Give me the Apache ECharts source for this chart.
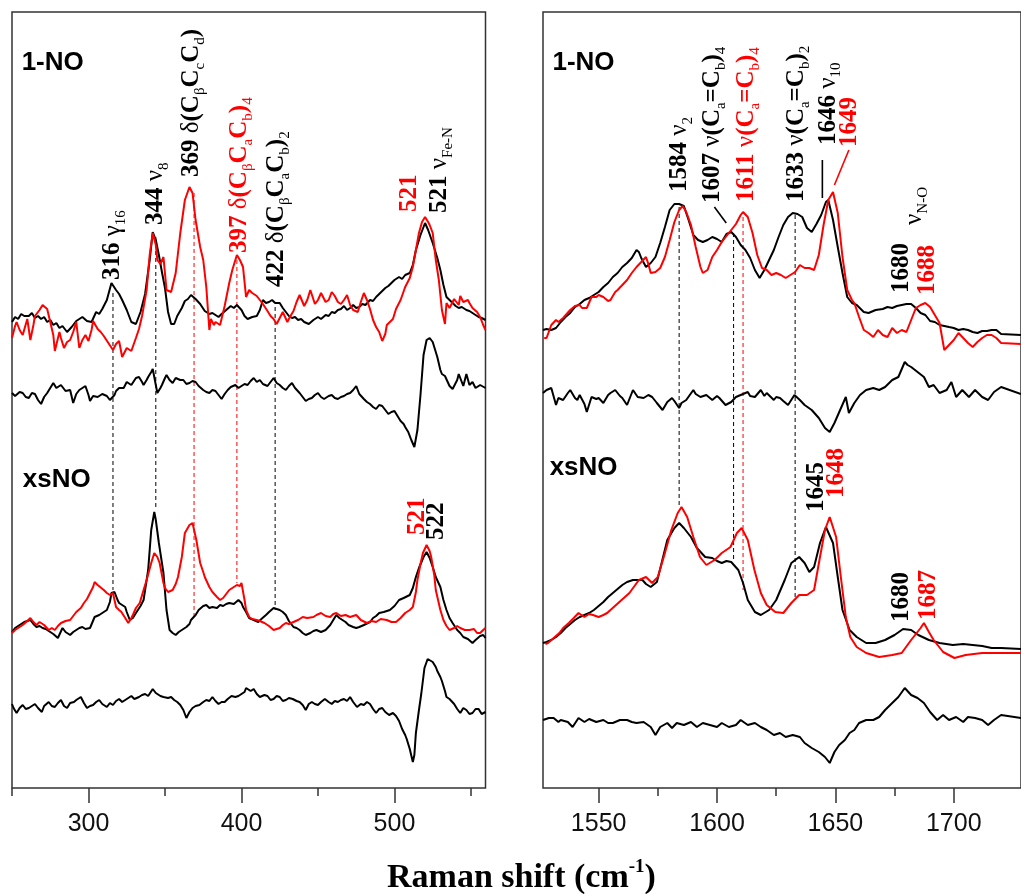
<!DOCTYPE html>
<html>
<head>
<meta charset="utf-8">
<script src="https://cdn.jsdelivr.net/npm/echarts@6/dist/echarts.min.js"></script>
<style>
  html, body { margin: 0; padding: 0; background: #fff; }
  #main { width: 1021px; height: 894px; }
</style>
</head>
<body>
<div id="main"></div>
<script>
// ---- Tick positions (cm^-1) ----
const leftMajorTicks = [300, 400, 500];
const leftMinorTicks = [250, 350, 450, 550];
const rightMajorTicks = [1550, 1600, 1650, 1700];
const rightMinorTicks = [1575, 1625, 1675];

// ---- Low-frequency region: [Raman shift, intensity] ----
const no1LowBlack = [[250,8],[252,13],[254,11],[256,16],[258,14],[261,14],[263,17],[265,12],[267,14],[269,11],[271,13],[273,8],[275,10],[277,5],[279,7],[281,2],[283,4],[286,-2],[289,3],[292,9],[294,11],[296,13],[299,9],[302,8],[305,18],[307,16],[309,21],[312,30],[315,47],[318,40],[320,36],[322,30],[325,20],[328,8],[331,6],[334,18],[337,36],[340,70],[342,98],[344,90],[346,75],[348,58],[350,42],[352,18],[354,6],[356,6],[358,14],[361,22],[363,29],[365,31],[367,35],[370,31],[373,26],[376,19],[379,16],[381,17],[383,15],[385,13],[387,16],[390,20],[393,24],[395,22],[397,25],[400,20],[402,14],[404,11],[407,13],[410,14],[412,20],[414,30],[416,27],[418,28],[420,30],[422,27],[425,27],[427,22],[429,18],[431,14],[433,12],[435,13],[437,10],[439,11],[441,8],[444,6],[447,10],[450,13],[452,11],[455,15],[457,14],[459,18],[461,17],[463,20],[465,21],[467,24],[469,20],[471,22],[473,25],[475,22],[477,23],[479,26],[481,25],[484,30],[486,29],[488,33],[490,36],[492,39],[494,42],[496,44],[498,47],[500,50],[503,53],[505,51],[507,55],[510,57],[512,65],[514,80],[517,95],[519,103],[520,107],[522,100],[525,87],[528,72],[530,60],[532,45],[534,33],[536,30],[538,27],[540,24],[542,22],[544,23],[547,20],[549,19],[551,17],[553,15],[555,13],[557,12],[559.5,10]];
const no1LowRed = [[250,-8],[252,4],[253,8],[255,0],[257,-5],[260,11],[262,-10],[264,5],[265,14],[268,20],[270,25],[273,21],[275,8],[277,-5],[278,-21],[281,-2],[282,-8],[284,-18],[286,-12],[288,-10],[290,-2],[292,8],[294,-18],[296,-10],[298,-5],[300,-11],[302,0],[303,9],[306,1],[308,-2],[310,-6],[313,-13],[316,-20],[318,-14],[320,-11],[322,-27],[325,-18],[328,-21],[331,-8],[333,1],[335,14],[338,40],[340,75],[342,97],[344,85],[345,70],[347,66],[349,73],[351,40],[354,38],[357,57],[360,97],[363,130],[366,143],[368,137],[370,110],[373,83],[375,70],[377,43],[379,0],[380,11],[382,5],[383,8],[386,5],[389,24],[392,47],[394,60],[396,70],[397,75],[399,70],[401,63],[403,33],[405,40],[407,37],[410,34],[412,30],[414,26],[417,19],[419,14],[421,11],[423,6],[425,12],[427,18],[430,8],[432,14],[434,19],[436,28],[438,35],[441,24],[443,30],[445,40],[448,26],[450,30],[452,37],[455,28],[457,30],[459,38],[461,34],[463,28],[465,26],[467,30],[469,35],[471,25],[473,20],[476,18],[478,28],[480,37],[482,30],[484,21],[486,10],[488,3],[490,-2],[492,-11],[494,-4],[495,5],[497,8],[499,11],[501,21],[504,30],[507,43],[510,52],[512,63],[514,80],[516,97],[518,108],[520,113],[522,108],[523,105],[525,97],[527,70],[529,50],[531,20],[533,6],[534,27],[536,22],[537,24],[539,31],[540,30],[542,25],[543,34],[545,28],[546,26],[548,30],[549,27],[551,22],[552,24],[554,18],[556,13],[558,5],[559.5,0]];
const no1LowDiff = [[250,7],[252,4],[253,4],[255,8],[257,7],[259,3],[261,2],[263,7],[265,6],[267,0],[269,-4],[271,3],[273,7],[275,12],[277,17],[279,12],[280,10],[282,15],[283,14],[285,9],[286,7],[288,10],[290,-3],[292,6],[294,10],[296,12],[298,14],[300,5],[301,-1],[303,4],[304,6],[306,3],[307,2],[309,6],[312,4],[314,0],[315,-1],[317,5],[318,9],[320,12],[321,14],[323,12],[325,18],[326,20],[328,15],[329,17],[331,22],[333,23],[335,18],[336,15],[338,20],[339,23],[341,28],[342,31],[344,15],[345,7],[347,12],[348,15],[350,22],[351,25],[353,20],[355,17],[357,22],[358,23],[360,20],[362,20],[364,16],[366,17],[368,19],[370,18],[372,14],[375,10],[377,8],[379,7],[381,10],[383,9],[385,5],[387,1],[389,6],[391,10],[393,13],[396,15],[398,12],[400,14],[402,16],[404,15],[406,19],[408,22],[410,18],[412,20],[414,16],[417,14],[419,18],[421,22],[423,17],[425,15],[427,12],[429,10],[431,14],[433,17],[435,12],[438,7],[440,3],[442,-1],[444,1],[446,2],[448,5],[450,7],[452,3],[454,1],[457,4],[459,5],[461,2],[463,1],[465,3],[467,4],[469,6],[471,7],[473,10],[475,14],[477,6],[480,1],[482,-2],[484,-4],[486,-7],[488,-9],[490,-5],[492,-6],[494,-10],[496,-14],[498,-12],[500,-11],[502,-16],[504,-21],[506,-24],[507,-27],[509,-32],[511,-40],[513,-47],[515,-30],[517,5],[519,45],[521,60],[523,62],[525,58],[528,43],[530,30],[531,26],[533,24],[534,22],[536,14],[538,11],[539,10],[541,20],[542,26],[544,18],[545,14],[547,26],[549,15],[551,18],[553,12],[554,10],[556,15],[557,17],[559.5,12]];
const xsLowBlack = [[250,-2],[252,2],[255,5],[258,8],[260,9],[262,10],[264,6],[266,3],[268,4],[270,2],[272,1],[275,-2],[277,-4],[280,-8],[283,2],[285,-2],[288,-5],[290,-2],[292,0],[294,2],[296,3],[298,1],[301,2],[304,13],[307,15],[309,17],[312,20],[314,28],[315,37],[317,38],[319,30],[320,27],[322,25],[324,23],[325,18],[327,10],[329,12],[331,17],[334,24],[336,30],[339,60],[341,100],[343,118],[344,110],[346,87],[349,57],[351,20],[353,0],[355,-3],[357,-5],[359,-2],[361,0],[364,3],[366,6],[367,10],[370,15],[372,20],[375,24],[377,25],[379,22],[381,23],[384,22],[386,25],[388,24],[390,26],[392,27],[395,26],[398,30],[400,27],[401,23],[403,18],[405,12],[408,10],[411,8],[413,11],[416,15],[418,18],[421,22],[423,21],[425,20],[427,18],[429,15],[431,9],[434,3],[436,2],[438,0],[440,-3],[442,-5],[445,-3],[447,-1],[449,0],[452,-2],[455,0],[458,5],[460,10],[462,15],[464,12],[466,10],[468,8],[470,5],[473,3],[475,2],[477,3],[480,5],[484,8],[486,12],[488,14],[490,17],[493,18],[497,20],[500,24],[503,30],[506,32],[510,35],[512,42],[514,53],[516,62],[519,73],[521,78],[523,72],[525,63],[527,53],[530,43],[532,30],[534,20],[536,12],[538,7],[541,0],[543,-3],[545,-7],[548,-9],[551,-13],[553,-10],[556,-6],[558,-5],[559.5,-8]];
const xsLowRed = [[250,-3],[252,0],[255,3],[257,5],[258,6],[260,9],[262,12],[264,8],[266,5],[268,8],[269,10],[271,5],[274,0],[276,2],[278,0],[280,4],[282,7],[285,9],[288,10],[290,14],[292,18],[295,22],[297,27],[299,31],[301,37],[303,43],[304,48],[306,45],[307,43],[310,40],[312,37],[314,35],[316,37],[317,30],[318,23],[320,20],[321.5,18],[324,12],[326,7],[328,12],[329,15],[331,22],[333.5,27],[336,40],[338,50],[341,67],[343,77],[345,73],[346.5,67],[349,47],[350,42],[352,38],[355,40],[357,46],[358.5,53],[361,73],[363,97],[366,105],[368,107],[370.5,90],[373,67],[375,58],[376,53],[379,43],[381,38],[384,33],[386,30],[388,32],[390,36],[392,40],[394,42],[397,45],[399,44],[400,47],[402,30],[403,20],[405,13],[407,11],[410,10],[412,9],[415,7],[418,4],[421,0],[423,1],[425,2],[427,5],[429,7],[431,6],[434,8],[437,10],[440,13],[443,12],[447,13],[449,15],[452,17],[455,14],[458,13],[460,16],[462,17],[465,14],[468,15],[471,13],[475,15],[478,10],[482,7],[485,9],[488,8],[491,11],[495,10],[498,8],[501,8],[504,12],[507,17],[510,20],[512,23],[514,38],[515,50],[517,66],[518.6,77],[521,85],[523,79],[524,73],[526,55],[527,40],[530,20],[532,10],[534,4],[536,0],[539,2],[541,4],[543,2],[546,0],[549,0],[552,1],[554,-3],[556,-3],[558,0],[559.5,2]];
const xsLowDiff = [[250,1],[251,-3],[253,-8],[255,-3],[257,0],[259,-4],[261,-3],[263,-1],[265,1],[267,-3],[269.5,-7],[271,-1],[274,3],[276,-1],[278,-2],[280,2],[282,5],[284,-1],[286,-3],[288,2],[290.5,3],[292,5],[295,8],[297,2],[299,-3],[301,-1],[303,0],[305,3],[307,5],[309,1],[312,-2],[314,2],[316,0],[318,4],[320,6],[322,3],[324,5],[326,7],[328,9],[330,6],[333,8],[335,10],[337,11],[339,9],[342,16],[344,12],[345,11],[347,9],[349,8],[352,7],[354,8],[356,5],[358,3],[360,0],[362,-5],[364,-13],[366,-7],[368,-3],[370,-1],[372.5,0],[375,3],[377,5],[379,4],[381,8],[383,4],[385,1],[387,3],[389,3],[391,6],[393.5,9],[396,8],[398,9],[400,11],[402,13],[403,17],[404,19],[406,14],[408,16],[410,11],[412,8],[415,10],[417,9],[419,5],[421,6],[423,9],[425,8],[427,4],[429,5],[431,7],[433.5,6],[436,4],[438,3],[440,0],[442,-5],[444,1],[446,3],[448,1],[450,0],[452,3],[454.5,6],[457,3],[459,1],[461,4],[463,3],[465,5],[467,6],[469,4],[471,8],[473,3],[475.5,-2],[478,1],[480,0],[482,3],[484,1],[486,-4],[488,-8],[490,-4],[492,-3],[494,-7],[496.5,-10],[499,-8],[501,-11],[503,-16],[505,-24],[507,-30],[508,-34],[510,-44],[512,-57],[513,-50],[514,-28],[516,-5],[517.5,11],[519.6,37],[521.7,46],[523,44],[525,43],[527,38],[528,34],[530,28],[531,24],[533,14],[534,8],[536,6],[539,1],[541,-4],[543,-8],[545,-3],[547,-5],[549,-9],[551,-8],[553,-4],[555,-4],[557,-9],[559.5,-7]];

// ---- High-frequency region: [Raman shift, intensity] ----
const no1HighBlack = [[1526.5,0],[1528,1],[1530,0],[1532,2],[1534,8],[1536,13],[1538,17],[1540,23],[1542,26],[1544,30],[1546,32],[1548,35],[1550,38],[1552,43],[1554,47],[1556,53],[1558,57],[1560,63],[1562,67],[1564,72],[1566,80],[1567,78],[1568,72],[1570,63],[1572,67],[1574,73],[1576,87],[1578,103],[1580,120],[1582,126],[1584,126],[1586,124],[1588,110],[1590,95],[1592,90],[1594,88],[1596,90],[1598,93],[1600,91],[1602,88],[1604,96],[1606,98],[1608,93],[1610,85],[1612,80],[1614,72],[1616,60],[1618,52],[1620,60],[1622,70],[1624,80],[1626,93],[1628,105],[1630,113],[1632,117],[1634,116],[1636,113],[1638,102],[1640,98],[1642,106],[1644,115],[1646,128],[1647,130],[1649,110],[1651,83],[1653,57],[1655,33],[1657,27],[1659,25],[1662,18],[1664,17],[1667,20],[1670,21],[1672,23],[1674,22],[1676,24],[1678,25],[1680,26],[1682,26],[1684,22],[1686,17],[1688,15],[1690,9],[1692,8],[1694,5],[1696,4],[1698,3],[1700,2],[1702,0],[1704,1],[1706,0],[1708,-2],[1710,-3],[1712,-1],[1714,-1],[1716,0],[1718,0],[1720,-4],[1728.4,-5]];
const no1HighRed = [[1527,-8],[1528,-8],[1530,5],[1532,10],[1533,8],[1535,12],[1538,20],[1540,24],[1542,25],[1543,22],[1545,22],[1547,33],[1549,33],[1550,35],[1552,33],[1554,29],[1555,30],[1557,38],[1558,40],[1560,45],[1562,50],[1564,57],[1566,63],[1568,68],[1570,73],[1571,66],[1572,57],[1574,58],[1576,62],[1578,73],[1580,90],[1582,108],[1584,120],[1585.5,124],[1587,118],[1589,105],[1591,83],[1593,63],[1594,57],[1596,60],[1598,73],[1600,80],[1602,88],[1604,94],[1606,100],[1608,106],[1610,115],[1611,118],[1613,113],[1615,97],[1617,75],[1619,62],[1621,60],[1623,55],[1625,57],[1627,55],[1629,52],[1631,55],[1633,58],[1635,65],[1637,62],[1639,62],[1641,60],[1643,75],[1645,105],[1647,130],[1649,138],[1651,117],[1653,73],[1655,40],[1657,30],[1658,27],[1660,13],[1662,0],[1664,-3],[1666,-7],[1668,0],[1670,-5],[1672,-7],[1674,2],[1676,-3],[1678,0],[1680,-2],[1682,10],[1684,22],[1686,25],[1688,27],[1690,23],[1692,15],[1694,7],[1696,-20],[1698,-15],[1700,-10],[1702,-3],[1704,-8],[1706,-13],[1708,-17],[1710,-12],[1712,-8],[1714,-5],[1716,-5],[1718,-8],[1720,-13],[1728.4,-14]];
const no1HighDiff = [[1526.5,5],[1528,8],[1530,10],[1532,-7],[1533,0],[1535,-2],[1537,5],[1538,8],[1540,0],[1541,-2],[1542,3],[1544,-6],[1545,-14],[1547,1],[1549,-1],[1550,0],[1552,-5],[1554,3],[1555,5],[1557,8],[1559,2],[1560,0],[1562,-7],[1564.5,8],[1566.5,1],[1569,0],[1571,3],[1572.6,1],[1574.6,-5],[1577,-12],[1579,-4],[1581,0],[1582,-3],[1584,-10],[1585,-5],[1587,-2],[1590,8],[1591,4],[1593,1],[1595.5,3],[1597,0],[1598,-2],[1600,2],[1601,0],[1603.6,-7],[1606,-4],[1608,1],[1610,3],[1613,6],[1614,2],[1616,1],[1618.5,8],[1620,2],[1621,5],[1624,-2],[1625,1],[1626.6,0],[1628,-3],[1630,-7],[1632.7,3],[1635,-2],[1637,-7],[1640,-12],[1643,-20],[1645.6,-30],[1647.6,-34],[1649.6,-25],[1652,-12],[1654.4,1],[1655.7,-15],[1658,-5],[1660.4,3],[1663,8],[1666,10],[1668.5,8],[1671,11],[1674,18],[1676.6,21],[1679.3,36],[1680.5,33],[1682,31],[1684.7,26],[1687.4,21],[1689.5,11],[1691.5,13],[1694,5],[1697,8],[1699,16],[1701,1],[1703.6,8],[1706.4,1],[1709,8],[1712,1],[1714.5,-2],[1717,6],[1720,11],[1728.4,4]];
const xsHighBlack = [[1526.5,-13],[1528,-12],[1530,-10],[1532,-7],[1534,-3],[1536,2],[1538,6],[1540,10],[1542,13],[1544,15],[1546,17],[1548,20],[1550,24],[1552,28],[1554,33],[1556,37],[1558,41],[1560,45],[1562,48],[1564.5,50],[1566,50],[1568.5,50],[1570,46],[1572,43],[1574.6,48],[1576.6,67],[1579,90],[1582,102],[1584,107],[1586,102],[1589,93],[1591.5,82],[1595,73],[1598,72],[1600,69],[1602,67],[1604,69],[1606,68],[1609,60],[1611,47],[1613,30],[1616,18],[1618.5,15],[1622,20],[1625,30],[1628.6,50],[1631.4,67],[1634.7,73],[1637,67],[1639,58],[1641,63],[1643.5,87],[1646,103],[1649,87],[1651,53],[1653,20],[1656,0],[1659,-7],[1663,-13],[1667,-13],[1671,-10],[1675,-5],[1678.6,1],[1682,0],[1685,-5],[1689.5,-10],[1694,-13],[1699.6,-15],[1704,-14],[1708,-15],[1712,-16],[1716,-18],[1720,-18],[1728.4,-19]];
const xsHighRed = [[1527.5,-14],[1528.6,-13],[1531,-8],[1533.4,-3],[1535,2],[1537.4,7],[1539.5,12],[1541.5,17],[1544,13],[1546,16],[1547.6,15],[1550,13],[1552,15],[1553.6,17],[1556.4,23],[1559.7,30],[1563,37],[1567,50],[1570,53],[1572.6,47],[1575,53],[1578,77],[1580.7,100],[1583.4,117],[1585,123],[1587.4,113],[1590,93],[1592.8,73],[1595.5,65],[1599,70],[1602,77],[1605.7,83],[1608.4,97],[1610.4,102],[1613,90],[1615.8,60],[1618.5,37],[1621,25],[1624.6,18],[1628,17],[1631.4,27],[1634.7,35],[1638,35],[1641,40],[1643.5,73],[1645.6,100],[1647.6,113],[1650.3,93],[1652.3,53],[1654.4,13],[1656.3,-7],[1659,-17],[1663,-23],[1668.5,-27],[1674,-25],[1678,-23],[1682,-10],[1684,-4],[1686,2],[1687.4,7],[1689.5,-2],[1691.5,-10],[1695.5,-22],[1700.3,-28],[1705,-25],[1712,-23],[1720,-23],[1728.4,-23]];
const xsHighDiff = [[1526.5,0],[1529,2],[1531,2],[1533,-2],[1534,0],[1537,-2],[1539,-7],[1541.5,2],[1544,-2],[1546,1],[1549,-2],[1552,0],[1554,-3],[1556,-3],[1559,0],[1562,0],[1564,-2],[1566,-3],[1569,-2],[1572,-7],[1574,-15],[1576,-7],[1579,-3],[1581,-8],[1583,-3],[1586,-5],[1589,-2],[1591.5,-7],[1594,-3],[1597,-5],[1600,-7],[1602,-3],[1605,-7],[1608,-5],[1610,0],[1613,-5],[1616,-3],[1618.5,-7],[1621,-10],[1624,-15],[1626.6,-13],[1629,-17],[1632,-15],[1635,-17],[1637,-23],[1640,-28],[1643,-32],[1645.6,-37],[1647.6,-43],[1649.6,-32],[1651.6,-25],[1654,-20],[1656,-13],[1658,-10],[1660,-3],[1663,0],[1666,0],[1668.5,3],[1671,10],[1674,17],[1676.6,23],[1679.3,32],[1682,25],[1684.7,22],[1687.4,17],[1690,8],[1693,0],[1695.5,5],[1698,0],[1701,3],[1704,-2],[1706,3],[1709,2],[1712,0],[1714.5,-5],[1717,0],[1720,5],[1728.4,2]];

// ---- Band markers: [shift, top, bottom] ----
const lowBandsBlack = [[316, 495, 198], [344, 551, 278], [422, 481, 178]];
const lowBandsRed = [[369, 595, 171], [397, 528, 205]];
const highBandsBlack = [[1584, 581, 281], [1607, 555, 228], [1633, 573, 191]];
const highBandsRed = [[1611, 571, 198]];

const SERIF = '"Liberation Serif", "Times New Roman", serif';
const SANS = '"Liberation Sans", Arial, sans-serif';
const AXIS_COLOR = '#333';

// vertical baselines of the stacked traces (axis units)
const OFFSET = { no1: 458, no1DiffLow: 388, no1DiffHigh: 390, xs: 158, xsDiffLow: 83, xsDiffHigh: 68 };

function shifted(arr, off) { return arr.map(p => [p[0], p[1] + off]); }

const series = [];
function trace(data, off, color, axis) {
  series.push({
    type: 'line', data: shifted(data, off), xAxisIndex: axis.x, yAxisIndex: axis.y,
    showSymbol: false, symbol: 'none', smooth: false, animation: false, silent: true,
    lineStyle: { color: color, width: 2 }, z: color === '#ff0000' ? 3 : 2
  });
}
function bandLine(b, color, axis) {
  series.push({
    type: 'line', data: [[b[0], b[1]], [b[0], b[2]]], xAxisIndex: axis.x, yAxisIndex: axis.y,
    showSymbol: false, symbol: 'none', animation: false, silent: true,
    lineStyle: { color: color, width: 1, type: [4, 3] }, z: 1
  });
}
function leader(pts, color, axis) {
  series.push({
    type: 'line', data: pts, xAxisIndex: axis.x, yAxisIndex: axis.y,
    showSymbol: false, symbol: 'none', animation: false, silent: true,
    lineStyle: { color: color, width: 1.6 }, z: 4
  });
}

const L = { x: 0, y: 0 }, R = { x: 2, y: 1 };

lowBandsBlack.forEach(b => bandLine(b, '#000', L));
lowBandsRed.forEach(b => bandLine(b, '#ff0000', L));
highBandsBlack.forEach(b => bandLine(b, '#000', R));
highBandsRed.forEach(b => bandLine(b, '#ff0000', R));

trace(no1LowBlack, OFFSET.no1, '#000', L);
trace(no1LowRed, OFFSET.no1, '#ff0000', L);
trace(no1LowDiff, OFFSET.no1DiffLow, '#000', L);
trace(xsLowBlack, OFFSET.xs, '#000', L);
trace(xsLowRed, OFFSET.xs, '#ff0000', L);
trace(xsLowDiff, OFFSET.xsDiffLow, '#000', L);

trace(no1HighBlack, OFFSET.no1, '#000', R);
trace(no1HighRed, OFFSET.no1, '#ff0000', R);
trace(no1HighDiff, OFFSET.no1DiffHigh, '#000', R);
trace(xsHighBlack, OFFSET.xs, '#000', R);
trace(xsHighRed, OFFSET.xs, '#ff0000', R);
trace(xsHighDiff, OFFSET.xsDiffHigh, '#000', R);

// leader lines for the crowded band labels
leader([[1598.9, 581], [1603.9, 565]], '#000', R);
leader([[1644.5, 628], [1644.5, 590]], '#000', R);
leader([[1655.7, 638], [1649.6, 603]], '#ff0000', R);

function xAxisPair(grid, min, max, major, minor) {
  const common = {
    type: 'value', gridIndex: grid, min: min, max: max, position: 'bottom',
    splitLine: { show: false }, axisLine: { show: false }
  };
  return [
    Object.assign({}, common, {
      axisTick: { show: true, inside: false, length: 15, customValues: major, lineStyle: { color: AXIS_COLOR, width: 1.5 } },
      axisLabel: { show: true, customValues: major, margin: 24, fontFamily: SANS, fontSize: 25, color: '#111',
                   formatter: v => String(v) }
    }),
    Object.assign({}, common, {
      axisTick: { show: true, inside: false, length: 8, customValues: minor, lineStyle: { color: AXIS_COLOR, width: 1.5 } },
      axisLabel: { show: false }
    })
  ];
}

const option = {
  backgroundColor: '#fff',
  animation: false,
  grid: [
    { left: 12, top: 12, width: 473.5, height: 776, show: true, borderColor: AXIS_COLOR, borderWidth: 1.5, backgroundColor: 'transparent' },
    { left: 543, top: 12, width: 498, height: 776, show: true, borderColor: AXIS_COLOR, borderWidth: 1.5, backgroundColor: 'transparent' }
  ],
  xAxis: [].concat(
    xAxisPair(0, 250, 559.5, leftMajorTicks, leftMinorTicks),
    xAxisPair(1, 1526.5, 1728.4, rightMajorTicks, rightMinorTicks)
  ),
  yAxis: [
    { type: 'value', gridIndex: 0, min: 0, max: 776, show: false },
    { type: 'value', gridIndex: 1, min: 0, max: 776, show: false }
  ],
  series: series
};

const chart = echarts.init(document.getElementById('main'), null, { renderer: 'canvas' });
chart.setOption(option);

// ---- Band assignments, written bottom-to-top ----
const rich = {
  n: { fontFamily: SERIF, fontWeight: 'bold', fontSize: 25, lineHeight: 32, verticalAlign: 'middle' },
  g: { fontFamily: SERIF, fontSize: 25, lineHeight: 32, verticalAlign: 'middle' },
  b: { fontFamily: SERIF, fontWeight: 'bold', fontSize: 25, lineHeight: 32, verticalAlign: 'middle' },
  s: { fontFamily: SERIF, fontSize: 15, lineHeight: 17, verticalAlign: 'bottom' }
};
const bandLabels = [
  { ax: L, x: 316, y: 508, color: '#000', parts: [['n', '316 '], ['g', 'γ'], ['s', '16']] },
  { ax: L, x: 344, y: 563, color: '#000', parts: [['n', '344 '], ['g', 'ν'], ['s', '8']] },
  { ax: L, x: 367.5, y: 611, color: '#000', parts: [['n', '369 '], ['g', 'δ'], ['b', '(C'], ['s', 'β'], ['b', 'C'], ['s', 'c'], ['b', 'C'], ['s', 'd'], ['b', ')']] },
  { ax: L, x: 398.8, y: 535, color: '#ff0000', parts: [['n', '397 '], ['g', 'δ'], ['b', '(C'], ['s', 'β'], ['b', 'C'], ['s', 'a'], ['b', 'C'], ['s', 'b'], ['b', ')'], ['s', '4']] },
  { ax: L, x: 422.8, y: 501, color: '#000', parts: [['n', '422 '], ['g', 'δ'], ['b', '(C'], ['s', 'β'], ['b', 'C'], ['s', 'a'], ['b', 'C'], ['s', 'b'], ['b', ')'], ['s', '2']] },
  { ax: L, x: 509.9, y: 576, color: '#ff0000', parts: [['n', '521']] },
  { ax: L, x: 529.5, y: 575, color: '#000', parts: [['n', '521 '], ['g', 'ν'], ['s', 'Fe-N']] },
  { ax: L, x: 515.4, y: 253, color: '#ff0000', parts: [['n', '521']] },
  { ax: L, x: 527.4, y: 248, color: '#000', parts: [['n', '522']] },
  { ax: R, x: 1584, y: 596, color: '#000', parts: [['n', '1584 '], ['g', 'ν'], ['s', '2']] },
  { ax: R, x: 1598.2, y: 585, color: '#000', parts: [['n', '1607 '], ['g', 'ν'], ['b', '(C'], ['s', 'a'], ['b', '=C'], ['s', 'b'], ['b', ')'], ['s', '4']] },
  { ax: R, x: 1612.4, y: 586, color: '#ff0000', parts: [['n', '1611 '], ['g', 'ν'], ['b', '(C'], ['s', 'a'], ['b', '=C'], ['s', 'b'], ['b', ')'], ['s', '4']] },
  { ax: R, x: 1633.4, y: 586, color: '#000', parts: [['n', '1633 '], ['g', 'ν'], ['b', '(C'], ['s', 'a'], ['b', '=C'], ['s', 'b'], ['b', ')'], ['s', '2']] },
  { ax: R, x: 1646.9, y: 643, color: '#000', parts: [['n', '1646 '], ['g', 'ν'], ['s', '10']] },
  { ax: R, x: 1655.8, y: 641, color: '#ff0000', parts: [['n', '1649']] },
  { ax: R, x: 1683.4, y: 563, color: '#000', parts: [['g', 'ν'], ['s', 'N-O']] },
  { ax: R, x: 1678, y: 495, color: '#000', parts: [['n', '1680']] },
  { ax: R, x: 1688.8, y: 493, color: '#ff0000', parts: [['n', '1688']] },
  { ax: R, x: 1642.2, y: 276, color: '#000', parts: [['n', '1645']] },
  { ax: R, x: 1650.7, y: 290, color: '#ff0000', parts: [['n', '1648']] },
  { ax: R, x: 1678, y: 166, color: '#000', parts: [['n', '1680']] },
  { ax: R, x: 1689.5, y: 168, color: '#ff0000', parts: [['n', '1687']] }
];
// sample names, anchored at their left edge
const sampleLabels = [
  { ax: L, x: 256.3, y: 725, text: '1-NO' },
  { ax: R, x: 1530.5, y: 725, text: '1-NO' },
  { ax: L, x: 257, y: 308, text: 'xsNO' },
  { ax: R, x: 1529.3, y: 320, text: 'xsNO' }
];

function px(ax, x, y) { return chart.convertToPixel({ xAxisIndex: ax.x, yAxisIndex: ax.y }, [x, y]); }

const graphics = [];
bandLabels.forEach(l => {
  const p = px(l.ax, l.x, l.y);
  graphics.push({
    type: 'text', x: p[0], y: p[1], rotation: Math.PI / 2, z: 100, silent: true,
    style: {
      text: l.parts.map(t => '{' + t[0] + '|' + t[1] + '}').join(''),
      rich: rich, fill: l.color, align: 'left', verticalAlign: 'middle'
    }
  });
});
sampleLabels.forEach(l => {
  const p = px(l.ax, l.x, l.y);
  graphics.push({
    type: 'text', x: p[0], y: p[1], z: 100, silent: true,
    style: { text: l.text, fill: '#000', font: 'bold 26px ' + SANS, align: 'left', verticalAlign: 'middle' }
  });
});
// shared x-axis title
graphics.push({
  type: 'text', left: 387, top: 858, z: 100, silent: true,
  style: {
    text: '{t|Raman shift (cm}{u|-1}{t|)}',
    rich: {
      t: { fontFamily: SERIF, fontWeight: 'bold', fontSize: 34, lineHeight: 40, verticalAlign: 'middle' },
      u: { fontFamily: SERIF, fontWeight: 'bold', fontSize: 19, lineHeight: 20, verticalAlign: 'top' }
    },
    fill: '#000'
  }
});
chart.setOption({ graphic: graphics });
</script>
</body>
</html>
